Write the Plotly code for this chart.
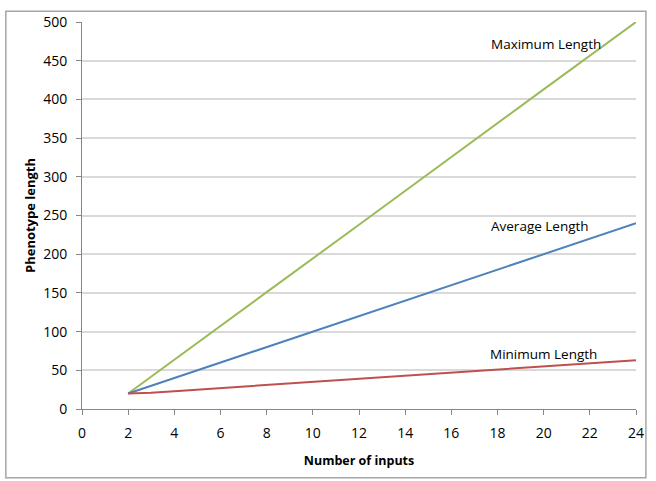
import plotly.graph_objects as go

x_inputs = [2, 3, 4, 8, 12, 16, 20, 24]
max_len = [20, 42, 64, 151, 238, 326, 413, 500]
avg_len = [20, 30, 40, 80, 120, 160, 200, 240]
min_len = [20, 21, 23, 31, 39, 47, 55, 63]

x_ticks = list(range(0, 25, 2))
y_ticks = list(range(0, 501, 50))

fig = go.Figure()
fig.add_trace(go.Scatter(x=x_inputs, y=max_len, mode="lines", name="Maximum Length",
                         line=dict(color="#9BBB59", width=2)))
fig.add_trace(go.Scatter(x=x_inputs, y=avg_len, mode="lines", name="Average Length",
                         line=dict(color="#4F81BD", width=2)))
fig.add_trace(go.Scatter(x=x_inputs, y=min_len, mode="lines", name="Minimum Length",
                         line=dict(color="#C0504D", width=2)))

font_family = "Open Sans, DejaVu Sans, sans-serif"

annos = [
    dict(x=20.1, y=472, text="Maximum Length"),
    dict(x=19.85, y=236, text="Average Length"),
    dict(x=20.0, y=71, text="Minimum Length"),
]
for a in annos:
    fig.add_annotation(x=a["x"], y=a["y"], text=a["text"], showarrow=False,
                       font=dict(size=13.5, color="#000000", family=font_family))

L, R, T, B = 82, 14, 15, 72
W, H = 656, 481
pw, ph = W - L - R, H - T - B
fig.add_shape(type="rect", xref="paper", yref="paper",
              x0=(5 - L) / pw, x1=(652 - L) / pw,
              y0=(H - B - 479) / ph, y1=(H - B - 4) / ph,
              line=dict(color="#A6A6A6", width=1.5), layer="below")

fig.update_layout(
    width=W, height=H,
    margin=dict(l=L, r=R, t=T, b=B),
    paper_bgcolor="white", plot_bgcolor="white",
    showlegend=False,
    font=dict(family=font_family, size=14, color="#000000"),
    xaxis=dict(
        range=[0, 24], tickmode="array", tickvals=x_ticks,
        showgrid=False, zeroline=False,
        showline=True, linecolor="#868686", linewidth=1,
        ticks="outside", ticklen=5, tickcolor="#868686",
        ticklabelstandoff=6,
        title=dict(text="<b>Number of inputs</b>", font=dict(size=12.5), standoff=15),
    ),
    yaxis=dict(
        range=[0, 500], tickmode="array", tickvals=y_ticks,
        showgrid=True, gridcolor="#D9D9D9", gridwidth=1.5, zeroline=False,
        showline=True, linecolor="#868686", linewidth=1,
        ticks="outside", ticklen=5, tickcolor="#868686",
        ticklabelstandoff=6,
        title=dict(text="<b>Phenotype length</b>", font=dict(size=13), standoff=4),
    ),
)

fig.write_html("out.html", config={"displayModeBar": False},
               post_script="document.body.style.margin='0px';")
